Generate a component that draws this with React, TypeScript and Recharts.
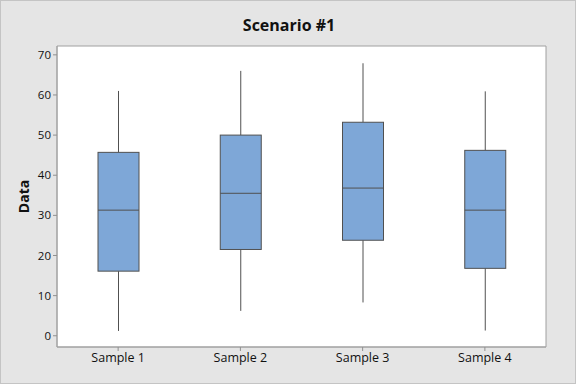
import { Bar, CartesianGrid, ComposedChart, ReferenceArea, XAxis, YAxis } from "recharts";

const samples = ["Sample 1", "Sample 2", "Sample 3", "Sample 4"];
const mins = [1.2, 6.2, 8.3, 1.3];
const q1s = [16.1, 21.5, 23.8, 16.8];
const medians = [31.3, 35.5, 36.8, 31.3];
const q3s = [45.7, 50.0, 53.2, 46.2];
const maxs = [61.0, 66.0, 67.9, 60.9];
const yTicks = [0, 10, 20, 30, 40, 50, 60, 70];
const yDomain = [-2.8, 72.2];

const data = samples.map((name, i) => ({
    name,
    min: mins[i],
    q1: q1s[i],
    median: medians[i],
    q3: q3s[i],
    max: maxs[i],
}));

const font = "'Open Sans', sans-serif";

// draws whiskers, box and median inside the [min, max] range bar
const BoxShape = (props: any) => {
    const { x, y, width, height, payload } = props;
    const { min, q1, median, q3, max } = payload;
    const top = Math.min(y, y + height);
    const h = Math.abs(height);
    const toY = (v: number) => top + (h * (max - v)) / (max - min);
    const cx = x + width / 2;
    const stroke = "#505050";
    return (
        <g>
            <line x1={cx} x2={cx} y1={toY(max)} y2={toY(q3)} stroke={stroke} strokeWidth={1} />
            <line x1={cx} x2={cx} y1={toY(q1)} y2={toY(min)} stroke={stroke} strokeWidth={1} />
            <rect x={x} y={toY(q3)} width={width} height={toY(q1) - toY(q3)} fill="#7ea7d7" stroke={stroke} strokeWidth={1} />
            <line x1={x} x2={x + width} y1={toY(median)} y2={toY(median)} stroke={stroke} strokeWidth={1} />
        </g>
    );
};

export default function App() {
    return (
        <div
            style={{
                position: "absolute",
                left: 0,
                top: 0,
                width: 576,
                height: 384,
                boxSizing: "border-box",
                background: "#e5e5e5",
                border: "1px solid #c4c4c4",
                fontFamily: font,
            }}
        >
            <div
                style={{
                    position: "absolute",
                    top: 13,
                    left: 0,
                    width: 576,
                    textAlign: "center",
                    fontSize: 16,
                    fontWeight: "bold",
                    color: "#111",
                }}
            >
                Scenario #1
            </div>
            <div style={{ position: "absolute", left: -1, top: -1 }}>
                <ComposedChart
                    width={576}
                    height={384}
                    data={data}
                    margin={{ top: 46, right: 30, bottom: 0, left: 0 }}
                >
                    <CartesianGrid fill="#ffffff" horizontal={false} vertical={false} />
                    <ReferenceArea y1={yDomain[1]} y2={yDomain[0]} fill="none" stroke="#a0a0a0" ifOverflow="visible" />
                    <XAxis
                        dataKey="name"
                        tickLine={{ stroke: "#909090" }}
                        tickSize={4}
                        axisLine={{ stroke: "#a0a0a0" }}
                        tick={{ fill: "#111", fontSize: 12.5, fontFamily: font }}
                        height={37}
                    />
                    <YAxis
                        domain={yDomain}
                        ticks={yTicks}
                        allowDataOverflow
                        width={57}
                        tickSize={4}
                        tickLine={{ stroke: "#909090" }}
                        axisLine={{ stroke: "#a0a0a0" }}
                        tick={{ fill: "#111", fontSize: 11.5, fontFamily: font }}
                        label={{ value: "Data", angle: -90, position: "center", dx: -4, fill: "#111", fontSize: 14, fontWeight: "bold", fontFamily: font }}
                    />
                    <Bar
                        dataKey={(d: any) => [d.min, d.max]}
                        barSize={41}
                        shape={BoxShape}
                        isAnimationActive={false}
                    />
                </ComposedChart>
            </div>
        </div>
    );
}
